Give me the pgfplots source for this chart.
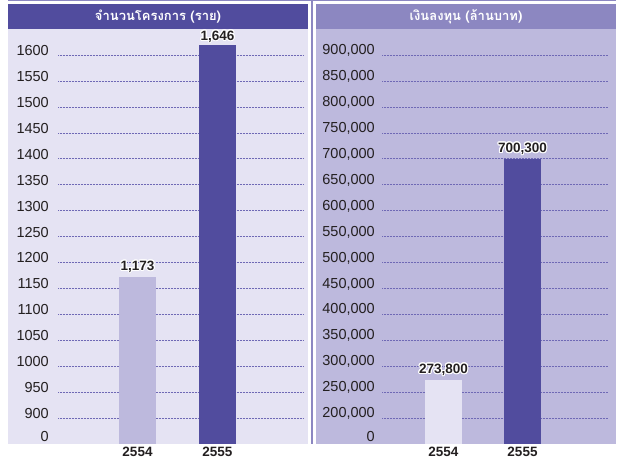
\documentclass[border=0pt]{standalone}
\usepackage{fontspec}
\setmainfont{Liberation Sans}
\newfontfamily\thaifont[Script=Thai]{Loma}
\usepackage{pgfplots}
\pgfplotsset{compat=1.18}
\usepackage{contour}
\contourlength{1.1pt}
\definecolor{hdark}{HTML}{514C9E}
\definecolor{hlight}{HTML}{8C87C1}
\definecolor{bglight}{HTML}{E5E3F3}
\definecolor{bgmid}{HTML}{BDB9DD}
\definecolor{gridc}{HTML}{6F69B5}
\definecolor{txt}{HTML}{231F20}
% broken y axis: values below #1 squeezed into one step, then one step per #2
\pgfplotsset{
 brk/.style n args={2}{y coord trafo/.code={\begingroup\pgfkeys{/pgf/fpu=true,/pgf/fpu/output format=fixed}%
   \pgfmathparse{##1<#1 ? ##1/#1 : 1+(##1-#1)/#2}\global\let\brkres\pgfmathresult\endgroup\let\pgfmathresult\brkres}},
 panel/.style={scale only axis,height=398bp,anchor=south west,ymin=0,
   axis line style={draw=none},major tick length=0pt,tick style={draw=none},
   ymajorgrids,major grid style={gridc,line width=0.7bp,dash pattern=on 0.6bp off 0.9bp},
   xtick={0,1},xticklabels={2554,2555},
   xticklabel style={anchor=north,inner sep=0pt,yshift=-2.7bp,text=txt,font=\bfseries\fontsize{13.5bp}{15bp}\selectfont},
   yticklabel style={anchor=east,inner sep=0pt,yshift=4.5bp,text=txt,font=\fontsize{14.5bp}{17bp}\selectfont},
   extra y ticks={0},extra y tick labels={0},
   extra y tick style={grid=none,yticklabel style={yshift=3bp}}},
 bar/.style={ybar,bar width=37bp,bar shift=0pt,draw=none,fill=#1},
 lbl/.style={point meta=explicit symbolic,nodes near coords={\contour{white}{\pgfplotspointmeta}},
   nodes near coords style={anchor=south,inner sep=0pt,yshift=3bp,text=txt,font=\bfseries\fontsize{13.5bp}{15bp}\selectfont}}
}
\begin{document}
\begin{tikzpicture}
\useasboundingbox (0,0) rectangle (624bp,465bp);
% frames and headers
\fill[bglight] (8bp,21bp) rectangle (308bp,436bp);
\fill[hdark] (8bp,436bp) rectangle (308bp,461bp);
\fill[bgmid] (316bp,21bp) rectangle (616bp,436bp);
\fill[hlight] (316bp,436bp) rectangle (616bp,461bp);
\draw[hlight,line width=1.4bp] (8bp,464.3bp) -- (616bp,464.3bp);
\draw[hlight,line width=1.7bp] (311.8bp,21bp) -- (311.8bp,465bp);
\node[text=white,font=\thaifont\bfseries\fontsize{13bp}{15bp}\selectfont] at (158bp,448.5bp) {จำนวนโครงการ (ราย)};
\node[text=white,font=\thaifont\bfseries\fontsize{13bp}{15bp}\selectfont] at (466bp,448.5bp) {เงินลงทุน (ล้านบาท)};

\begin{axis}[panel,at={(58bp,21bp)},width=245bp,xmin=-0.994,xmax=2.069,
  brk={900}{50},ymax=1617.5,
  ytick={900,950,1000,1050,1100,1150,1200,1250,1300,1350,1400,1450,1500,1550,1600},
  yticklabels={900,950,1000,1050,1100,1150,1200,1250,1300,1350,1400,1450,1500,1550,1600},
  yticklabel style={xshift=-9bp}]
\addplot[bar=bgmid,lbl] table[meta=l,row sep=\\] {x y l\\ 0 1173 1,173\\};
\addplot[bar=hdark] table[row sep=\\] {x y\\ 1 1646\\};
\end{axis}
% the 1,646 bar runs past the top of the scale: its label sits on the cut
\node[anchor=south,inner sep=0pt,text=txt,font=\bfseries\fontsize{13.5bp}{15bp}\selectfont]
  at (217.5bp,421.5bp) {\contour{white}{1,646}};

\begin{axis}[panel,at={(382bp,21bp)},width=226bp,xmin=-0.778,xmax=2.082,
  brk={200000}{50000},ymax=917500,
  ytick={200000,250000,300000,350000,400000,450000,500000,550000,600000,650000,700000,750000,800000,850000,900000},
  yticklabels={{200,000},{250,000},{300,000},{350,000},{400,000},{450,000},{500,000},{550,000},{600,000},{650,000},{700,000},{750,000},{800,000},{850,000},{900,000}},
  yticklabel style={xshift=-7bp}]
\addplot[bar=bglight,lbl] table[meta=l,row sep=\\] {x y l\\ 0 273800 273,800\\};
\addplot[bar=hdark,lbl] table[meta=l,row sep=\\] {x y l\\ 1 700300 700,300\\};
\end{axis}
\end{tikzpicture}
\end{document}
